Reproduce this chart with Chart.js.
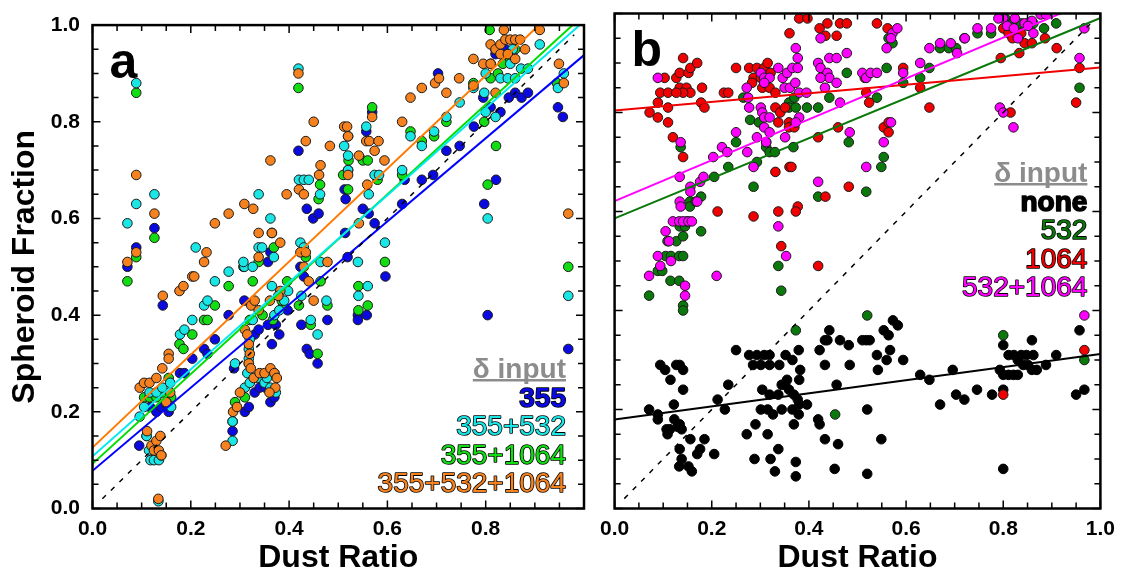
<!DOCTYPE html>
<html>
<head>
<meta charset="utf-8">
<script src="https://cdn.jsdelivr.net/npm/chart.js@4.4.0/dist/chart.umd.min.js"></script>
<style>
  body { margin: 0; background: #fff; width: 1123px; height: 577px; position: relative; overflow: hidden; }
  #chartA { position: absolute; left: 0; top: 0; }
  #chartB { position: absolute; left: 592px; top: 0; }
</style>
</head>
<body>
<canvas id="chartA" width="592" height="577"></canvas>
<canvas id="chartB" width="531" height="577"></canvas>
<script>
const FONT = '"Liberation Sans", Arial, Helvetica, sans-serif';

// ---- panel a : dust ratio vs spheroid fraction, [x, y] ----
const pts355 = [[0.071,0.50],[0.089,0.54],[0.126,0.58],[0.143,0.42],[0.095,0.13],[0.117,0.21],[0.13,0.20],[0.14,0.21],[0.152,0.21],[0.155,0.20],
  [0.178,0.28],[0.187,0.28],[0.203,0.31],[0.227,0.33],[0.234,0.32],[0.249,0.35],[0.277,0.40],[0.309,0.43],[0.285,0.16],[0.288,0.29],
  [0.31,0.20],[0.318,0.21],[0.33,0.24],[0.34,0.25],[0.352,0.25],[0.362,0.22],[0.37,0.23],[0.33,0.36],[0.338,0.37],[0.357,0.38],
  [0.365,0.34],[0.373,0.38],[0.38,0.36],[0.397,0.41],[0.357,0.51],[0.362,0.53],[0.419,0.74],[0.423,0.50],[0.43,0.48],[0.425,0.38],
  [0.436,0.33],[0.442,0.32],[0.458,0.30],[0.478,0.39],[0.436,0.62],[0.449,0.60],[0.46,0.61],[0.514,0.57],[0.519,0.52],[0.515,0.64],
  [0.513,0.66],[0.52,0.70],[0.54,0.40],[0.54,0.39],[0.558,0.40],[0.55,0.62],[0.562,0.61],[0.574,0.59],[0.557,0.78],[0.569,0.82],
  [0.596,0.48],[0.63,0.63],[0.635,0.68],[0.67,0.68],[0.693,0.69],[0.72,0.74],[0.747,0.75],[0.703,0.90],[0.776,0.79],[0.795,0.85],
  [0.797,0.63],[0.804,0.40],[0.821,0.68],[0.81,0.83],[0.83,0.82],[0.847,0.85],[0.86,0.86],[0.873,0.85],[0.886,0.86],[0.81,0.92],
  [0.947,0.83],[0.957,0.81],[0.968,0.33],[0.84,0.95],[0.82,0.94]];

const pts355_532 = [[0.071,0.59],[0.089,0.88],[0.089,0.63],[0.126,0.65],[0.096,0.19],[0.105,0.21],[0.116,0.24],[0.13,0.24],[0.142,0.25],[0.15,0.22],
  [0.158,0.26],[0.16,0.21],[0.178,0.36],[0.187,0.37],[0.203,0.39],[0.227,0.42],[0.234,0.43],[0.249,0.47],[0.21,0.54],[0.277,0.49],
  [0.11,0.15],[0.115,0.12],[0.118,0.10],[0.125,0.10],[0.135,0.10],[0.14,0.11],[0.134,0.015],[0.285,0.14],[0.285,0.18],[0.29,0.30],
  [0.31,0.25],[0.315,0.28],[0.318,0.31],[0.318,0.33],[0.32,0.35],[0.32,0.26],[0.34,0.27],[0.35,0.26],[0.355,0.27],[0.362,0.25],
  [0.373,0.24],[0.37,0.28],[0.326,0.39],[0.309,0.50],[0.307,0.51],[0.326,0.50],[0.338,0.54],[0.345,0.54],[0.338,0.65],[0.362,0.60],
  [0.369,0.52],[0.365,0.46],[0.39,0.43],[0.398,0.45],[0.37,0.40],[0.38,0.41],[0.419,0.91],[0.42,0.68],[0.43,0.68],[0.44,0.68],
  [0.423,0.55],[0.43,0.54],[0.425,0.44],[0.444,0.39],[0.458,0.36],[0.464,0.51],[0.463,0.65],[0.476,0.43],[0.512,0.75],[0.52,0.77],
  [0.52,0.70],[0.52,0.73],[0.541,0.44],[0.56,0.46],[0.54,0.51],[0.557,0.79],[0.562,0.65],[0.574,0.69],[0.583,0.69],[0.595,0.55],
  [0.63,0.70],[0.647,0.77],[0.67,0.75],[0.695,0.78],[0.72,0.81],[0.747,0.84],[0.775,0.87],[0.80,0.82],[0.804,0.60],[0.82,0.81],
  [0.83,0.89],[0.845,0.89],[0.86,0.89],[0.872,0.91],[0.886,0.91],[0.85,0.92],[0.91,0.96],[0.80,0.90],[0.82,0.95],[0.855,0.95],
  [0.959,0.90],[0.947,0.87],[0.968,0.44],[0.797,0.86]];

const pts355_1064 = [[0.071,0.47],[0.089,0.86],[0.089,0.52],[0.126,0.56],[0.105,0.23],[0.116,0.23],[0.13,0.23],[0.142,0.24],[0.155,0.27],[0.16,0.23],
  [0.177,0.34],[0.185,0.33],[0.203,0.36],[0.227,0.39],[0.234,0.39],[0.249,0.42],[0.277,0.46],[0.11,0.15],[0.285,0.18],[0.29,0.22],
  [0.31,0.23],[0.318,0.30],[0.32,0.39],[0.33,0.27],[0.346,0.40],[0.307,0.50],[0.326,0.47],[0.338,0.51],[0.365,0.57],[0.369,0.54],
  [0.367,0.39],[0.388,0.42],[0.396,0.47],[0.385,0.43],[0.419,0.87],[0.434,0.52],[0.42,0.42],[0.444,0.38],[0.458,0.32],[0.464,0.47],
  [0.46,0.64],[0.463,0.67],[0.478,0.42],[0.51,0.69],[0.52,0.66],[0.521,0.72],[0.541,0.46],[0.541,0.41],[0.56,0.42],[0.55,0.72],
  [0.56,0.72],[0.569,0.83],[0.58,0.68],[0.595,0.51],[0.63,0.69],[0.647,0.78],[0.67,0.76],[0.695,0.77],[0.72,0.80],[0.775,0.88],
  [0.797,0.80],[0.804,0.67],[0.821,0.75],[0.81,0.89],[0.825,0.90],[0.835,0.92],[0.85,0.93],[0.808,0.99],[0.82,0.95],[0.86,0.95],
  [0.945,0.88],[0.968,0.50]];

const pts355_532_1064 = [[0.071,0.51],[0.089,0.69],[0.089,0.53],[0.126,0.61],[0.143,0.44],[0.096,0.25],[0.105,0.26],[0.116,0.26],[0.13,0.27],[0.142,0.29],
  [0.155,0.32],[0.155,0.31],[0.177,0.45],[0.185,0.46],[0.203,0.48],[0.207,0.48],[0.232,0.53],[0.227,0.51],[0.249,0.59],[0.277,0.61],
  [0.309,0.63],[0.327,0.62],[0.338,0.57],[0.365,0.57],[0.338,0.52],[0.382,0.55],[0.362,0.72],[0.395,0.65],[0.111,0.16],[0.12,0.13],
  [0.125,0.12],[0.13,0.14],[0.135,0.12],[0.14,0.11],[0.138,0.15],[0.134,0.02],[0.15,0.22],[0.158,0.24],[0.271,0.13],[0.286,0.20],
  [0.294,0.21],[0.30,0.24],[0.31,0.37],[0.315,0.36],[0.318,0.34],[0.32,0.32],[0.318,0.30],[0.322,0.29],[0.328,0.27],[0.34,0.28],
  [0.35,0.28],[0.362,0.29],[0.37,0.28],[0.375,0.27],[0.372,0.25],[0.36,0.24],[0.323,0.42],[0.33,0.43],[0.338,0.41],[0.361,0.43],
  [0.382,0.45],[0.378,0.44],[0.42,0.66],[0.43,0.65],[0.423,0.53],[0.434,0.53],[0.43,0.50],[0.44,0.47],[0.478,0.51],[0.45,0.43],
  [0.419,0.90],[0.45,0.80],[0.434,0.76],[0.461,0.69],[0.464,0.71],[0.483,0.75],[0.512,0.79],[0.518,0.79],[0.52,0.77],[0.52,0.69],
  [0.542,0.73],[0.542,0.59],[0.557,0.76],[0.559,0.67],[0.563,0.76],[0.569,0.81],[0.574,0.74],[0.582,0.76],[0.594,0.72],[0.63,0.80],
  [0.647,0.85],[0.67,0.87],[0.697,0.88],[0.705,0.89],[0.72,0.86],[0.746,0.89],[0.775,0.93],[0.775,0.875],[0.795,0.92],[0.81,0.92],
  [0.82,0.86],[0.81,0.96],[0.82,0.95],[0.83,0.96],[0.837,0.99],[0.84,0.97],[0.85,0.97],[0.86,0.97],[0.87,0.97],[0.83,0.94],
  [0.845,0.94],[0.86,0.93],[0.88,0.95],[0.91,0.99],[0.949,0.92],[0.959,0.88],[0.968,0.61]];

// ---- panel b ----
const ptsNone = [[0.071,0.20],[0.089,0.19],[0.089,0.18],[0.094,0.29],[0.104,0.28],[0.115,0.26],[0.122,0.21],[0.127,0.29],[0.134,0.29],[0.141,0.28],
  [0.141,0.24],[0.107,0.16],[0.114,0.16],[0.109,0.15],[0.123,0.18],[0.134,0.17],[0.138,0.16],[0.13,0.165],[0.156,0.14],[0.134,0.12],
  [0.138,0.10],[0.133,0.085],[0.152,0.085],[0.159,0.075],[0.17,0.11],[0.176,0.12],[0.185,0.14],[0.205,0.11],[0.212,0.22],[0.227,0.20],
  [0.234,0.25],[0.25,0.32],[0.277,0.31],[0.293,0.31],[0.308,0.31],[0.319,0.31],[0.285,0.29],[0.301,0.29],[0.319,0.29],[0.339,0.29],
  [0.304,0.24],[0.319,0.23],[0.337,0.23],[0.351,0.25],[0.359,0.24],[0.369,0.23],[0.38,0.26],[0.355,0.26],[0.344,0.25],[0.301,0.20],
  [0.315,0.20],[0.326,0.19],[0.344,0.20],[0.366,0.20],[0.38,0.21],[0.396,0.21],[0.377,0.22],[0.272,0.15],[0.29,0.17],[0.315,0.15],
  [0.337,0.12],[0.369,0.17],[0.379,0.19],[0.288,0.10],[0.321,0.10],[0.33,0.075],[0.373,0.094],[0.373,0.065],[0.366,0.30],[0.379,0.32],
  [0.382,0.28],[0.352,0.31],[0.422,0.32],[0.433,0.34],[0.442,0.36],[0.438,0.34],[0.464,0.34],[0.482,0.33],[0.433,0.29],[0.484,0.29],
  [0.419,0.18],[0.422,0.17],[0.433,0.14],[0.46,0.13],[0.457,0.25],[0.453,0.08],[0.51,0.34],[0.518,0.34],[0.525,0.34],[0.52,0.20],
  [0.52,0.07],[0.54,0.31],[0.542,0.28],[0.549,0.14],[0.554,0.36],[0.564,0.35],[0.573,0.38],[0.583,0.37],[0.567,0.32],[0.56,0.30],
  [0.594,0.30],[0.629,0.27],[0.648,0.26],[0.67,0.21],[0.696,0.28],[0.703,0.23],[0.72,0.22],[0.746,0.24],[0.777,0.23],[0.793,0.28],
  [0.80,0.27],[0.811,0.27],[0.821,0.27],[0.80,0.33],[0.811,0.31],[0.822,0.31],[0.837,0.31],[0.848,0.31],[0.862,0.31],[0.83,0.30],
  [0.841,0.29],[0.851,0.29],[0.859,0.28],[0.83,0.27],[0.869,0.28],[0.888,0.29],[0.909,0.31],[0.859,0.34],[0.80,0.24],[0.80,0.08],
  [0.957,0.36],[0.95,0.23],[0.967,0.24]];

const pts532 = [[0.071,0.43],[0.089,0.48],[0.098,0.48],[0.115,0.46],[0.133,0.46],[0.141,0.41],[0.141,0.40],[0.105,0.51],[0.116,0.51],[0.133,0.51],
  [0.141,0.51],[0.109,0.54],[0.127,0.54],[0.141,0.55],[0.134,0.57],[0.145,0.57],[0.149,0.58],[0.155,0.62],[0.155,0.61],[0.167,0.62],
  [0.178,0.63],[0.178,0.56],[0.136,0.73],[0.205,0.67],[0.234,0.69],[0.25,0.74],[0.265,0.83],[0.279,0.785],[0.297,0.78],[0.293,0.70],
  [0.286,0.65],[0.312,0.73],[0.319,0.72],[0.33,0.72],[0.312,0.74],[0.337,0.49],[0.343,0.44],[0.359,0.82],[0.359,0.81],[0.373,0.81],
  [0.37,0.83],[0.368,0.73],[0.396,0.81],[0.419,0.81],[0.419,0.63],[0.442,0.83],[0.478,0.88],[0.482,0.74],[0.518,0.64],[0.54,0.83],
  [0.549,0.69],[0.554,0.71],[0.56,0.89],[0.564,0.95],[0.572,0.94],[0.594,0.86],[0.629,0.87],[0.648,0.89],[0.67,0.93],[0.688,0.93],
  [0.703,0.93],[0.72,0.95],[0.747,0.96],[0.775,0.96],[0.804,0.99],[0.819,0.98],[0.837,0.98],[0.851,0.98],[0.862,0.98],[0.884,0.97],
  [0.909,0.98],[0.80,0.35],[0.957,0.85],[0.967,0.30],[0.373,0.36],[0.52,0.39],[0.454,0.19]];

const pts1064 = [[0.072,0.80],[0.089,0.79],[0.089,0.82],[0.094,0.84],[0.103,0.87],[0.11,0.84],[0.11,0.81],[0.11,0.78],[0.127,0.87],[0.134,0.85],
  [0.134,0.88],[0.141,0.91],[0.152,0.88],[0.156,0.89],[0.148,0.85],[0.156,0.84],[0.17,0.90],[0.18,0.85],[0.178,0.82],[0.185,0.81],
  [0.141,0.84],[0.127,0.84],[0.12,0.75],[0.141,0.71],[0.212,0.60],[0.225,0.84],[0.234,0.84],[0.25,0.89],[0.277,0.89],[0.293,0.89],
  [0.308,0.89],[0.315,0.90],[0.321,0.88],[0.286,0.87],[0.301,0.87],[0.283,0.86],[0.304,0.85],[0.319,0.85],[0.331,0.84],[0.331,0.81],
  [0.341,0.80],[0.351,0.81],[0.359,0.78],[0.359,0.77],[0.37,0.77],[0.337,0.78],[0.331,0.68],[0.286,0.59],[0.337,0.60],[0.377,0.61],
  [0.373,0.60],[0.343,0.53],[0.36,0.69],[0.364,0.69],[0.36,0.96],[0.38,0.99],[0.397,0.99],[0.422,0.97],[0.438,0.98],[0.464,0.98],
  [0.478,0.98],[0.434,0.955],[0.457,0.955],[0.419,0.75],[0.419,0.49],[0.434,0.63],[0.46,0.77],[0.482,0.65],[0.515,0.87],[0.518,0.84],
  [0.524,0.82],[0.54,0.98],[0.562,0.97],[0.554,0.77],[0.564,0.76],[0.564,0.78],[0.594,0.89],[0.629,0.85],[0.648,0.81],[0.795,0.91],
  [0.80,0.97],[0.811,0.96],[0.83,0.96],[0.844,0.94],[0.859,0.94],[0.837,0.96],[0.819,0.95],[0.815,0.80],[0.833,0.92],[0.886,0.95],
  [0.91,0.93],[0.957,0.89],[0.95,0.82],[0.967,0.32],[0.80,0.23]];

const pts532_1064 = [[0.071,0.47],[0.089,0.51],[0.094,0.49],[0.105,0.56],[0.112,0.54],[0.116,0.50],[0.12,0.58],[0.133,0.58],[0.141,0.58],[0.152,0.58],
  [0.159,0.58],[0.134,0.62],[0.136,0.61],[0.156,0.65],[0.156,0.64],[0.17,0.62],[0.176,0.66],[0.183,0.67],[0.134,0.67],[0.145,0.45],
  [0.145,0.43],[0.136,0.74],[0.089,0.87],[0.203,0.71],[0.221,0.73],[0.232,0.72],[0.21,0.47],[0.25,0.76],[0.273,0.72],[0.277,0.81],
  [0.272,0.85],[0.275,0.83],[0.301,0.88],[0.308,0.87],[0.319,0.87],[0.308,0.86],[0.301,0.81],[0.304,0.80],[0.308,0.79],[0.319,0.79],
  [0.308,0.77],[0.319,0.76],[0.312,0.74],[0.293,0.75],[0.286,0.69],[0.337,0.89],[0.346,0.87],[0.355,0.88],[0.366,0.89],[0.377,0.89],
  [0.35,0.85],[0.361,0.85],[0.372,0.86],[0.373,0.93],[0.377,0.91],[0.38,0.84],[0.38,0.79],[0.373,0.78],[0.395,0.84],[0.351,0.75],
  [0.337,0.57],[0.353,0.51],[0.419,0.66],[0.419,0.90],[0.424,0.89],[0.438,0.88],[0.442,0.87],[0.457,0.86],[0.424,0.87],[0.433,0.85],
  [0.442,0.91],[0.457,0.91],[0.478,0.92],[0.424,0.95],[0.464,0.82],[0.484,0.76],[0.51,0.88],[0.518,0.87],[0.527,0.88],[0.518,0.69],
  [0.54,0.88],[0.56,0.93],[0.572,0.96],[0.582,0.97],[0.569,0.95],[0.569,0.78],[0.554,0.74],[0.594,0.88],[0.629,0.90],[0.648,0.93],
  [0.67,0.94],[0.692,0.94],[0.705,0.92],[0.721,0.95],[0.747,0.97],[0.775,0.97],[0.80,0.99],[0.824,0.99],[0.808,0.975],[0.822,0.97],
  [0.844,0.98],[0.859,0.985],[0.862,0.96],[0.83,0.95],[0.851,0.975],[0.877,0.998],[0.888,0.998],[0.79,0.99],[0.793,0.81],[0.80,0.80],
  [0.821,0.77],[0.957,0.91],[0.967,0.97],[0.967,0.39]];

// legend labels, colours and linear fits (y = intercept + slope * x)
const labelsA = ['355', '355+532', '355+1064', '355+532+1064'];
const colorsA = ['#0a0ae0', '#1ae6e6', '#12dc12', '#f5821f'];
const lineColorsA = ['#0000ff', '#00e8f0', '#00dd00', '#ff7a00'];
const interceptA = [0.078, 0.108, 0.0925, 0.126];
const slopeA = [0.86, 0.90, 0.929, 0.962];

const labelsB = ['none', '532', '1064', '532+1064'];
const colorsB = ['#000000', '#0a780a', '#f00000', '#ff00ff'];
const interceptB = [0.18, 0.586, 0.804, 0.621];
const slopeB = [0.132, 0.405, 0.087, 0.413];

const oneToOne = [[0.02, 0.02], [0.98, 0.98]];

function toXY(arr) { return arr.map(p => ({ x: p[0], y: p[1] })); }
function fit(a, b) { return [{ x: 0, y: a }, { x: 1, y: a + b }]; }

function scatterSet(data, color, border) {
  return {
    data: toXY(data), backgroundColor: color, borderColor: border || '#1a1a1a',
    borderWidth: 1, pointRadius: 4.8, pointHoverRadius: 4.8
  };
}
function lineSet(data, color, dash) {
  return {
    data: data, showLine: true, borderColor: color, borderWidth: dash ? 1.5 : 2,
    borderDash: dash || [], pointRadius: 0, fill: false
  };
}

function decor(letter, legendItems, legendColors, legendPos) {
  return {
    id: 'decor' + letter,
    afterDraw(chart) {
      const { ctx, chartArea: a, scales: { x, y } } = chart;
      ctx.save();
      // inward tick marks on all four sides
      ctx.strokeStyle = '#000';
      ctx.lineWidth = 1.5;
      for (let i = 0; i <= 20; i++) {
        const v = i / 20, len = i % 4 === 0 ? 8 : 6;
        const px = x.getPixelForValue(v), py = y.getPixelForValue(v);
        ctx.beginPath();
        ctx.moveTo(px, a.bottom); ctx.lineTo(px, a.bottom - len);
        ctx.moveTo(px, a.top); ctx.lineTo(px, a.top + len);
        ctx.moveTo(a.left, py); ctx.lineTo(a.left + len, py);
        ctx.moveTo(a.right, py); ctx.lineTo(a.right - len, py);
        ctx.stroke();
      }
      ctx.lineWidth = 2.5;
      ctx.strokeRect(a.left, a.top, a.right - a.left, a.bottom - a.top);

      // panel letter
      ctx.fillStyle = '#000';
      ctx.font = 'bold 50px ' + FONT;
      ctx.textAlign = 'left';
      ctx.textBaseline = 'alphabetic';
      ctx.fillText(letter, a.left + 17, a.top + 52.5);

      // legend block
      const rx = a.right - legendPos.right;
      const by = legendPos.fromTop ? a.top + legendPos.base : a.bottom + legendPos.base;
      ctx.textAlign = 'right';
      ctx.font = 'bold 28px ' + FONT;
      ctx.fillStyle = '#8c8c8c';
      ctx.fillText('δ input', rx, by);
      const w = ctx.measureText('δ input').width;
      ctx.fillRect(rx - w, by + 1, w, 2.5);
      legendItems.forEach((t, i) => {
        const yy = by + 28.5 * (i + 1);
        ctx.font = (i === 0 ? 'bold ' : '') + '28px ' + FONT;
        ctx.lineWidth = 1.6;
        ctx.lineJoin = 'round';
        ctx.strokeStyle = '#000';
        ctx.strokeText(t, rx, yy);
        ctx.fillStyle = legendColors[i];
        ctx.fillText(t, rx, yy);
      });
      ctx.restore();
    }
  };
}

function axisOptions(showYLabels, yWidth, xLast) {
  const tickFont = { family: FONT, size: 21, weight: 'bold' };
  const titleFont = { family: FONT, size: 32, weight: 'bold' };
  return {
    x: {
      type: 'linear', min: 0, max: 1,
      grid: { display: false, drawTicks: false }, border: { display: false },
      ticks: { stepSize: 0.2, padding: 8, color: '#000', font: tickFont, maxRotation: 0, autoSkip: false,
        callback: v => (v > 0.99 && !xLast) ? '' : v.toFixed(1) },
      title: { display: true, text: 'Dust Ratio', color: '#000', font: titleFont, padding: { top: 0, bottom: 0 } },
      afterFit: s => { s.height = 68.5; }
    },
    y: {
      type: 'linear', min: 0, max: 1,
      grid: { display: false, drawTicks: false }, border: { display: false },
      ticks: { display: showYLabels, stepSize: 0.2, padding: 12.5, color: '#000', font: tickFont,
        callback: v => v.toFixed(1) },
      title: { display: showYLabels, text: 'Spheroid Fraction', color: '#000', font: titleFont, padding: { top: 6, bottom: 0 } },
      afterFit: s => { s.width = yWidth; }
    }
  };
}

const baseOpts = {
  responsive: false, animation: false, events: [],
  plugins: { legend: { display: false }, tooltip: { enabled: false } }
};

new Chart(document.getElementById('chartA'), {
  type: 'scatter',
  data: {
    datasets: [
      lineSet(toXY(oneToOne), '#000', [5, 7]),
      lineSet(fit(interceptA[3], slopeA[3]), lineColorsA[3]),
      lineSet(fit(interceptA[1], slopeA[1]), lineColorsA[1]),
      lineSet(fit(interceptA[2], slopeA[2]), lineColorsA[2]),
      lineSet(fit(interceptA[0], slopeA[0]), lineColorsA[0]),
      scatterSet(pts355_532_1064, colorsA[3]),
      scatterSet(pts355_532, colorsA[1]),
      scatterSet(pts355_1064, colorsA[2]),
      scatterSet(pts355, colorsA[0])
    ]
  },
  options: Object.assign({}, baseOpts, {
    layout: { padding: { left: 0, right: 4, top: 13.5, bottom: 0 } },
    scales: axisOptions(true, 92.5, false)
  }),
  plugins: [decor('a', labelsA, colorsA, { right: 18, base: -130.5, fromTop: false })]
});

new Chart(document.getElementById('chartB'), {
  type: 'scatter',
  data: {
    datasets: [
      lineSet(toXY(oneToOne), '#000', [5, 7]),
      lineSet(fit(interceptB[3], slopeB[3]), colorsB[3]),
      lineSet(fit(interceptB[2], slopeB[2]), colorsB[2]),
      lineSet(fit(interceptB[1], slopeB[1]), colorsB[1]),
      lineSet(fit(interceptB[0], slopeB[0]), colorsB[0]),
      scatterSet(pts532_1064, colorsB[3]),
      scatterSet(pts1064, colorsB[2]),
      scatterSet(pts532, colorsB[1]),
      scatterSet(ptsNone, colorsB[0], '#000')
    ]
  },
  options: Object.assign({}, baseOpts, {
    layout: { padding: { left: 0, right: 20, top: 13.5, bottom: 0 } },
    scales: axisOptions(false, 17, true)
  }),
  plugins: [decor('b', labelsB, colorsB, { right: 13, base: 168.5, fromTop: true })]
});
</script>
</body>
</html>
